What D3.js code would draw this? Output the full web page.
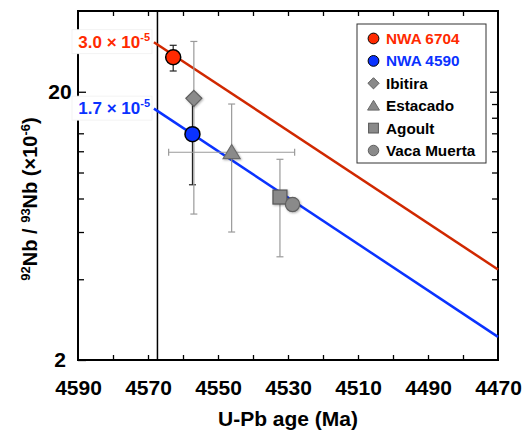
<!DOCTYPE html>
<html><head><meta charset="utf-8">
<script src="https://cdn.jsdelivr.net/npm/d3@7"></script>
<style>body{margin:0;background:#fff}svg{display:block;font-family:Arial,"Liberation Sans",Helvetica,sans-serif}</style>
</head><body><svg id="c" width="526" height="431"></svg>
<script>
// ---- data ----
const samples   = ["NWA 6704","NWA 4590","Ibitira","Estacado","Agoult","Vaca Muerta"];
const ages      = [4562.8, 4557.3, 4556.9, 4546.1, 4532.3, 4528.7];
const ageErr    = [0, 0, 0, 18, 0, 0];
const ratios    = [26.9, 13.9, 18.9, 11.9, 8.1, 7.6];
const ratioHi   = [29.8, 18.9, 30.8, 18.0, 11.2, null];
const ratioLo   = [23.9, 9.0, 7.0, 6.0, 4.85, null];
const symbols   = ["circle","circle","diamond","triangle","square","circle"];
const lineAges  = [4568.3, 4470];
const line6704  = [30.6, 4.35];
const line4590  = [17.3, 2.44];
const solarAge  = 4567.3;
const xTickLabels = [4590, 4570, 4550, 4530, 4510, 4490, 4470];
const xMinorTicks = [4580,4570,4560,4550,4540,4530,4520,4510,4500,4490,4480];
const yTickLabels = [2, 20];
const yMinorTicks = [4,6,8,10,12,14,16,18];

const svg = d3.select("#c");
const L=78,R=498,T=11,B=360;
const x = d3.scaleLinear().domain([4590,4470]).range([L,R]);
const y = d3.scaleLog().domain([2,40]).range([B,T]);

const RED="#ff2a00", REDLINE="#d02800", BLUE="#0a32ff";

// axes ticks
function styleAxis(g){g.select(".domain").remove();g.selectAll("line").attr("stroke","#000").attr("stroke-width",1.3);}
svg.append("g").attr("transform",`translate(0,${B})`).call(d3.axisBottom(x).tickValues(xMinorTicks).tickSize(-5).tickFormat("")).call(styleAxis);
svg.append("g").attr("transform",`translate(0,${T})`).call(d3.axisTop(x).tickValues(xMinorTicks).tickSize(-5).tickFormat("")).call(styleAxis);
const bx = svg.append("g").attr("transform",`translate(0,${B})`).call(d3.axisBottom(x).tickValues(xTickLabels).tickSize(0).tickPadding(20).tickFormat(d3.format("d"))).call(styleAxis);
bx.selectAll("text").attr("font-size",21).attr("font-weight","bold").attr("fill","#000").attr("font-family","Arial, 'Liberation Sans', sans-serif");

svg.append("g").attr("transform",`translate(${L},0)`).call(d3.axisLeft(y).tickValues(yMinorTicks).tickSize(-6).tickFormat("")).call(styleAxis);
svg.append("g").attr("transform",`translate(${R},0)`).call(d3.axisRight(y).tickValues(yMinorTicks).tickSize(-6).tickFormat("")).call(styleAxis);
const ly = svg.append("g").attr("transform",`translate(${L},0)`).call(d3.axisLeft(y).tickValues(yTickLabels).tickSize(-8).tickPadding(0).tickFormat(d3.format("d"))).call(styleAxis);
ly.selectAll("text").attr("x",-18).attr("text-anchor","middle").attr("font-size",21).attr("font-weight","bold").attr("fill","#000").attr("font-family","Arial, 'Liberation Sans', sans-serif");
svg.append("g").attr("transform",`translate(${R},0)`).call(d3.axisRight(y).tickValues([20]).tickSize(-8).tickFormat("")).call(styleAxis);

// frame
svg.append("rect").attr("x",L).attr("y",T).attr("width",R-L).attr("height",B-T).attr("fill","none").attr("stroke","#000").attr("stroke-width",2);
// solar system age line
svg.append("line").attr("x1",x(solarAge)).attr("x2",x(solarAge)).attr("y1",T).attr("y2",B).attr("stroke","#000").attr("stroke-width",1.5);

// decay lines
const lg = d3.line().x(d=>x(d[0])).y(d=>y(d[1]));
svg.append("path").attr("d",lg(lineAges.map((a,i)=>[a,line6704[i]]))).attr("stroke",REDLINE).attr("stroke-width",2.5).attr("fill","none");
svg.append("path").attr("d",lg(lineAges.map((a,i)=>[a,line4590[i]]))).attr("stroke",BLUE).attr("stroke-width",2.5).attr("fill","none");

// initial ratio labels
function ratioLabel(txt,val,color){
  const cy=y(val)-0.5;
  svg.append("rect").attr("x",72).attr("y",cy-12).attr("width",80).attr("height",24).attr("fill","#fff").attr("stroke","#f0f0f0").attr("stroke-width",0.8);
  const t=svg.append("text").attr("x",150).attr("y",cy+6).attr("text-anchor","end").attr("fill",color).attr("font-weight","bold").attr("font-size",17);
  t.append("tspan").text(txt+" \u00d7 10");
  t.append("tspan").attr("dy",-7).attr("font-size",11).text("-5");
}
ratioLabel("3.0",line6704[0],RED);
ratioLabel("1.7",line4590[0],BLUE);

// error bars
const eg = svg.append("g");
samples.forEach((s,i)=>{
  const col = i<2 ? "#222" : "#9a9a9a";
  const cx=x(ages[i]);
  if(ratioHi[i]!=null){
    eg.append("line").attr("x1",cx).attr("x2",cx).attr("y1",y(ratioHi[i])).attr("y2",y(ratioLo[i])).attr("stroke",col).attr("stroke-width",1.2);
    [ratioHi[i],ratioLo[i]].forEach(v=>eg.append("line").attr("x1",cx-3.5).attr("x2",cx+3.5).attr("y1",y(v)).attr("y2",y(v)).attr("stroke",col).attr("stroke-width",1.2));
  }
  if(ageErr[i]>0){
    const cy=y(ratios[i]);
    eg.append("line").attr("x1",x(ages[i]+ageErr[i])).attr("x2",x(ages[i]-ageErr[i])).attr("y1",cy).attr("y2",cy).attr("stroke",col).attr("stroke-width",1.2);
    [ages[i]+ageErr[i],ages[i]-ageErr[i]].forEach(a=>eg.append("line").attr("x1",x(a)).attr("x2",x(a)).attr("y1",cy-3.5).attr("y2",cy+3.5).attr("stroke",col).attr("stroke-width",1.2));
  }
});

// markers
const defs=svg.append("defs");
const f=defs.append("filter").attr("id","sh").attr("x","-50%").attr("y","-50%").attr("width","200%").attr("height","200%");
f.append("feDropShadow").attr("dx",1).attr("dy",1).attr("stdDeviation",1).attr("flood-color","#000").attr("flood-opacity",0.3);

const fills=[RED,BLUE,"#8a8a8a","#8a8a8a","#8a8a8a","#8a8a8a"];
const strokes=["#000","#000","#5f5f5f","#6a6a6a","#555","#5f5f5f"];
function drawSym(g,type,cx,cy,sc,fill,stroke,sw){
  let el;
  if(type==="circle") el=g.append("circle").attr("cx",cx).attr("cy",cy).attr("r",7.5*sc);
  else if(type==="diamond"){const r=8*sc;el=g.append("path").attr("d",`M${cx},${cy-r}L${cx+r},${cy}L${cx},${cy+r}L${cx-r},${cy}Z`);}
  else if(type==="triangle"){const w=8.5*sc,h=14*sc;el=g.append("path").attr("d",`M${cx},${cy-h*0.55}L${cx+w},${cy+h*0.45}L${cx-w},${cy+h*0.45}Z`);}
  else {const r=7*sc;el=g.append("rect").attr("x",cx-r).attr("y",cy-r).attr("width",2*r).attr("height",2*r);}
  el.attr("fill",fill).attr("stroke",stroke).attr("stroke-width",sw);
  return el;
}
const mg=svg.append("g");
[2,3,4,5,1,0].forEach(i=>{
  const sc = i===5 ? 0.95 : 1;
  const el=drawSym(mg,symbols[i],x(ages[i]),y(ratios[i]),sc,fills[i],strokes[i],i<2?1.5:1.2);
  if(i>=2) el.attr("filter","url(#sh)");
});

// legend
svg.append("rect").attr("x",357).attr("y",24).attr("width",129).attr("height",139).attr("fill","#fff").attr("stroke","#333").attr("stroke-width",1);
const legCols=[RED,BLUE,"#000","#000","#000","#000"];
samples.forEach((s,i)=>{
  const cy=38.5+i*22.4;
  drawSym(svg,symbols[i],373.5,cy,i<2?0.72:0.7,fills[i],strokes[i],1);
  svg.append("text").attr("x",386).attr("y",cy+5.5).attr("fill",legCols[i]).attr("font-weight","bold").attr("font-size",15.3).text(s);
});

// axis titles
svg.append("text").attr("x",(L+R)/2).attr("y",426).attr("text-anchor","middle").attr("font-weight","bold").attr("font-size",21).text("U-Pb age (Ma)");
const yt=svg.append("text").attr("transform","translate(37,199) rotate(-90)").attr("text-anchor","middle").attr("font-weight","bold").attr("font-size",20);
yt.append("tspan").attr("font-size",13).attr("dy",-7).text("92");
yt.append("tspan").attr("dy",7).text("Nb / ");
yt.append("tspan").attr("font-size",13).attr("dy",-7).text("93");
yt.append("tspan").attr("dy",7).text("Nb (\u00d710");
yt.append("tspan").attr("font-size",13).attr("dy",-7).text("-6");
yt.append("tspan").attr("dy",7).text(")");
</script></body></html>
